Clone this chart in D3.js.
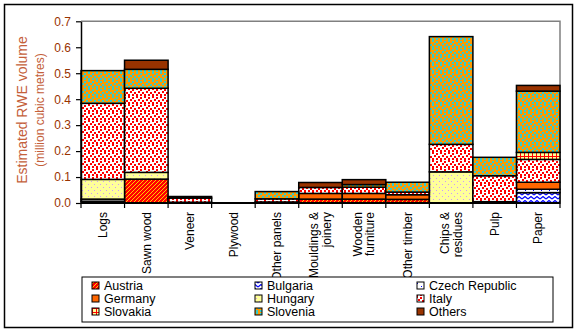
<!DOCTYPE html>
<html>
<head>
<meta charset="utf-8">
<script src="https://cdn.jsdelivr.net/npm/d3@7"></script>
<style>
  html, body { margin: 0; padding: 0; background: #fff; }
  svg { display: block; font-family: Arial, "Liberation Sans", sans-serif; }
</style>
</head>
<body>
<svg id="chart" width="577" height="332"></svg>
<script>
// Product categories along the x axis
const categories = ["Logs", "Sawn wood", "Veneer", "Plywood", "Other panels",
  "Mouldings & joinery", "Wooden furniture", "Other timber", "Chips & residues", "Pulp", "Paper"];
// Axis labels, broken into lines
const categoryLines = [["Logs"], ["Sawn wood"], ["Veneer"], ["Plywood"], ["Other panels"],
  ["Mouldings &", "joinery"], ["Wooden", "furniture"], ["Other timber"], ["Chips &", "residues"], ["Pulp"], ["Paper"]];

// Estimated RWE volume by country (million cubic metres)
const austria  = [0.007, 0.092, 0.003, 0, 0.004, 0.015, 0.015, 0.014, 0,     0.005, 0];
const bulgaria = [0,     0,     0,     0, 0,     0,     0,     0,     0,     0,     0.040];
const czech    = [0.008, 0,     0,     0, 0,     0,     0,     0,     0,     0,     0.013];
const germany  = [0,     0,     0,     0, 0,     0.022, 0.022, 0.018, 0,     0,     0.027];
const hungary  = [0.076, 0.026, 0,     0, 0,     0,     0,     0,     0.120, 0,     0];
const italy    = [0.293, 0.324, 0.016, 0, 0.012, 0.023, 0.024, 0.010, 0.106, 0.100, 0.088];
const slovakia = [0,     0,     0,     0, 0,     0,     0,     0,     0,     0,     0.027];
const slovenia = [0.126, 0.073, 0,     0, 0.028, 0,     0.010, 0.038, 0.415, 0.071, 0.236];
const others   = [0,     0.035, 0.006, 0, 0,     0.019, 0.019, 0,     0,     0,     0.022];

const yTicks = [0, 0.1, 0.2, 0.3, 0.4, 0.5, 0.6, 0.7];

const seriesNames = ["Austria", "Bulgaria", "Czech Republic", "Germany", "Hungary",
  "Italy", "Slovakia", "Slovenia", "Others"];
const seriesValues = [austria, bulgaria, czech, germany, hungary, italy, slovakia, slovenia, others];
const seriesFill = ["p-austria", "p-bulgaria", "p-czech", "p-germany", "p-hungary",
  "p-italy", "p-slovakia", "p-slovenia", "p-others"];

const rows = categories.map((c, i) => {
  const r = { category: c };
  seriesNames.forEach((s, k) => { r[s] = seriesValues[k][i]; });
  return r;
});

const svg = d3.select("#chart");

// ---- fill patterns ----
const defs = svg.append("defs");
function pattern(id, w, h, draw) {
  const p = defs.append("pattern").attr("id", id).attr("patternUnits", "userSpaceOnUse")
    .attr("width", w).attr("height", h);
  draw(p);
}
pattern("p-austria", 4, 4, p => {
  p.append("rect").attr("width", 4).attr("height", 4).attr("fill", "#ff0000");
  p.append("path").attr("d", "M-1,1 L1,-1 M0,4 L4,0 M3,5 L5,3")
    .attr("stroke", "#ffff00").attr("stroke-width", 0.8);
});
pattern("p-bulgaria", 6, 4, p => {
  p.append("rect").attr("width", 6).attr("height", 4).attr("fill", "#ffffff");
  p.append("path").attr("d", "M0,3 L3,0.5 L6,3").attr("fill", "none")
    .attr("stroke", "#0000ff").attr("stroke-width", 1.2);
});
pattern("p-czech", 8, 6, p => {
  p.append("rect").attr("width", 8).attr("height", 6).attr("fill", "#ffffff");
  p.append("rect").attr("x", 1).attr("y", 1).attr("width", 1).attr("height", 1).attr("fill", "#0000ff");
  p.append("rect").attr("x", 5).attr("y", 4).attr("width", 1).attr("height", 1).attr("fill", "#0000ff");
});
pattern("p-germany", 4, 4, p => {
  p.append("rect").attr("width", 4).attr("height", 4).attr("fill", "#ff6600");
});
pattern("p-hungary", 6, 6, p => {
  p.append("rect").attr("width", 6).attr("height", 6).attr("fill", "#ffff99");
  p.append("rect").attr("x", 1).attr("y", 1).attr("width", 1).attr("height", 1).attr("fill", "#cc99ff");
  p.append("rect").attr("x", 4).attr("y", 4).attr("width", 1).attr("height", 1).attr("fill", "#cc99ff");
});
// large-confetti style: scattered squares on a background colour
function confetti(p, bg, fg) {
  p.append("rect").attr("width", 8).attr("height", 8).attr("fill", bg);
  [[0, 0], [4, 1], [2, 3], [6, 4], [0, 6], [4, 6]].forEach(([x, y]) =>
    p.append("rect").attr("x", x).attr("y", y).attr("width", 2).attr("height", 2).attr("fill", fg));
}
pattern("p-italy", 8, 8, p => confetti(p, "#ffffff", "#ff0000"));
pattern("p-slovenia", 8, 8, p => confetti(p, "#ff9900", "#33cccc"));
pattern("p-slovakia", 4, 4, p => {
  p.append("rect").attr("width", 4).attr("height", 4).attr("fill", "#ff0000");
  p.append("rect").attr("x", 1).attr("y", 1).attr("width", 3).attr("height", 3).attr("fill", "#ffff99");
});
pattern("p-others", 4, 4, p => {
  p.append("rect").attr("width", 4).attr("height", 4).attr("fill", "#993300");
});

// ---- outer frame ----
svg.append("rect").attr("x", 4.5).attr("y", 4.5).attr("width", 568).attr("height", 323)
  .attr("fill", "#fff").attr("stroke", "#000").attr("stroke-width", 1.5);

// ---- scales ----
const plot = { left: 81, right: 560, top: 21.3, bottom: 203 };
const x = d3.scaleBand().domain(categories).range([plot.left, plot.right]).paddingInner(0).paddingOuter(0);
const y = d3.scaleLinear().domain([0, 0.7]).range([plot.bottom, plot.top]);

// plot area border (top and right in grey)
svg.append("path")
  .attr("d", `M${plot.left},${y(0.7)} H${plot.right} V${plot.bottom}`)
  .attr("fill", "none").attr("stroke", "#808080").attr("stroke-width", 1.5);

// ---- stacked bars ----
const stack = d3.stack().keys(seriesNames);
const stacked = stack(rows);

stacked.forEach((layer, k) => {
  svg.append("g").selectAll("rect")
    .data(layer.filter(d => d[1] - d[0] > 0))
    .join("rect")
    .attr("x", d => x(d.data.category))
    .attr("width", x.bandwidth())
    .attr("y", d => y(d[1]))
    .attr("height", d => y(d[0]) - y(d[1]))
    .attr("fill", `url(#${seriesFill[k]})`)
    .attr("stroke", "#000")
    .attr("stroke-width", 1.5);
});

// ---- y axis ----
const yAxis = svg.append("g").attr("transform", `translate(${plot.left},0)`)
  .call(d3.axisLeft(y).tickValues(yTicks).tickFormat(d3.format(".1f")).tickSize(5).tickSizeOuter(0));
yAxis.select(".domain").attr("stroke", "#000").attr("stroke-width", 1.5);
yAxis.selectAll(".tick line").attr("stroke", "#000").attr("stroke-width", 1.2);
yAxis.selectAll(".tick text").attr("fill", "#993300").attr("font-size", 12)
  .attr("font-family", "Arial, 'Liberation Sans', sans-serif").attr("x", -10);

// ---- x axis ----
const xAxis = svg.append("g").attr("transform", `translate(0,${plot.bottom})`);
xAxis.append("line").attr("x1", plot.left).attr("x2", plot.right).attr("y1", 0).attr("y2", 0)
  .attr("stroke", "#000").attr("stroke-width", 2);
const bounds = categories.map(c => x(c)).concat([x(categories[categories.length - 1]) + x.bandwidth()]);
xAxis.selectAll("line.tk").data(bounds).join("line").attr("class", "tk")
  .attr("x1", d => d).attr("x2", d => d).attr("y1", 0).attr("y2", 5)
  .attr("stroke", "#000").attr("stroke-width", 1.2);

const labels = xAxis.selectAll("g.lbl").data(categories).join("g").attr("class", "lbl")
  .attr("transform", d => `translate(${x(d) + x.bandwidth() / 2},9) rotate(-90)`);
labels.each(function (d, i) {
  const lines = categoryLines[i];
  const n = lines.length;
  d3.select(this).selectAll("text").data(lines).join("text")
    .attr("x", 0)
    .attr("y", (l, j) => (j - (n - 1) / 2) * 12.5)
    .attr("dy", "0.35em")
    .attr("text-anchor", "end")
    .attr("font-size", 12)
    .attr("fill", "#000")
    .text(l => l);
});

// ---- y axis title ----
const titleG = svg.append("g").attr("transform", "translate(22,110) rotate(-90)");
titleG.append("text").attr("text-anchor", "middle").attr("dy", "0.35em")
  .attr("font-size", 14).attr("fill", "#c4603a").text("Estimated RWE volume");
titleG.append("text").attr("text-anchor", "middle").attr("y", 18).attr("dy", "0.35em")
  .attr("font-size", 12).attr("fill", "#c4603a").text("(million cubic metres)");

// ---- legend ----
const legend = svg.append("g");
legend.append("rect").attr("x", 82).attr("y", 277).attr("width", 471).attr("height", 45)
  .attr("fill", "#fff").attr("stroke", "#000").attr("stroke-width", 1);
const colX = [92, 255, 417];
const rowY = [286, 299, 312];
seriesNames.forEach((s, k) => {
  const cx = colX[k % 3], cy = rowY[Math.floor(k / 3)];
  legend.append("rect").attr("x", cx).attr("y", cy - 4).attr("width", 7).attr("height", 7)
    .attr("fill", `url(#${seriesFill[k]})`).attr("stroke", "#000").attr("stroke-width", 1);
  legend.append("text").attr("x", cx + 12).attr("y", cy).attr("dy", "0.35em")
    .attr("font-size", 12.5).attr("fill", "#000").text(s);
});
</script>
</body>
</html>
